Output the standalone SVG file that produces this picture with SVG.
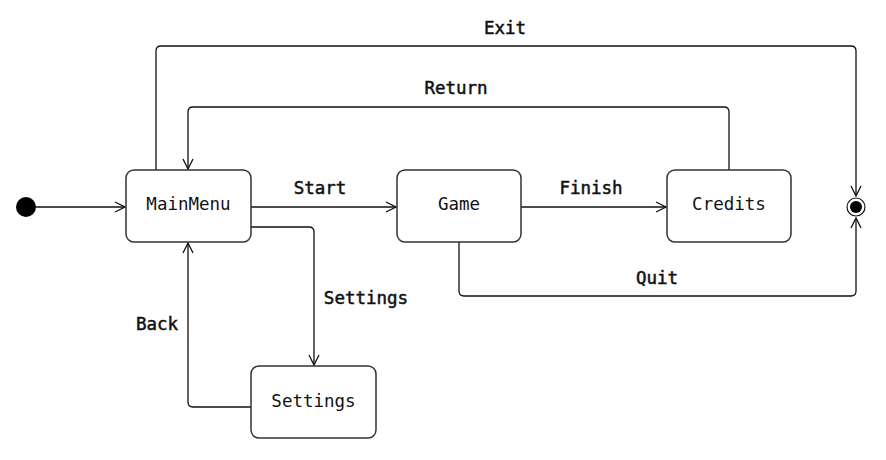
<svg xmlns="http://www.w3.org/2000/svg" width="886" height="460" viewBox="0 0 886 460">
<style>
.st rect{fill:#fff;stroke:#333;stroke-width:1.5}
.st text{font-family:"DejaVu Sans Mono","Liberation Mono",monospace;font-size:17.5px;fill:#111;text-anchor:middle;dominant-baseline:central}
.c path{fill:none;stroke:#111;stroke-width:1.3}
.lb{font-family:"DejaVu Sans Mono","Liberation Mono",monospace;font-size:17.5px;fill:#111;stroke:#111;stroke-width:0.5;text-anchor:middle}
</style>
<defs>
<marker id="a" viewBox="0 0 12 12" refX="11" refY="6" markerWidth="12" markerHeight="12" markerUnits="userSpaceOnUse" orient="auto">
<path d="M1,1 L11,6 L1,11" fill="none" stroke="#111" stroke-width="1.3"/>
</marker>
</defs>
<rect width="886" height="460" fill="#fff"/>
<g class="c">
<path d="M36,207 H125" marker-end="url(#a)"/>
<path d="M251,207 H396" marker-end="url(#a)"/>
<path d="M521,207 H666" marker-end="url(#a)"/>
<path d="M729,170 V112 Q729,107 724,107 H193 Q188,107 188,112 V169" marker-end="url(#a)"/>
<path d="M156,170 V51 Q156,46 161,46 H851 Q856,46 856,51 V196" marker-end="url(#a)"/>
<path d="M459,242 V291 Q459,296 464,296 H851 Q856,296 856,291 V218" marker-end="url(#a)"/>
<path d="M251,227 H309 Q314,227 314,232 V365" marker-end="url(#a)"/>
<path d="M251,407 H193 Q188,407 188,402 V243" marker-end="url(#a)"/>
</g>
<g class="lb">
<text x="320" y="194">Start</text>
<text x="591" y="194">Finish</text>
<text x="456" y="94">Return</text>
<text x="505" y="34">Exit</text>
<text x="657" y="284">Quit</text>
<text x="366" y="304">Settings</text>
<text x="157" y="330">Back</text>
</g>
<g id="initial"><circle cx="26" cy="207" r="10" fill="#000"/></g>
<g id="final"><circle cx="856" cy="207" r="9" fill="#fff" stroke="#111" stroke-width="1.2"/><circle cx="856" cy="207" r="6" fill="#000"/></g>
<g id="MainMenu" class="st"><rect x="126" y="170" width="125" height="72" rx="8"/><text x="188.5" y="204">MainMenu</text></g>
<g id="Game" class="st"><rect x="397" y="170" width="124" height="72" rx="8"/><text x="459" y="204">Game</text></g>
<g id="Credits" class="st"><rect x="667" y="170" width="124" height="72" rx="8"/><text x="729" y="204">Credits</text></g>
<g id="Settings" class="st"><rect x="251" y="366" width="125" height="72" rx="8"/><text x="313.5" y="401">Settings</text></g>
</svg>
